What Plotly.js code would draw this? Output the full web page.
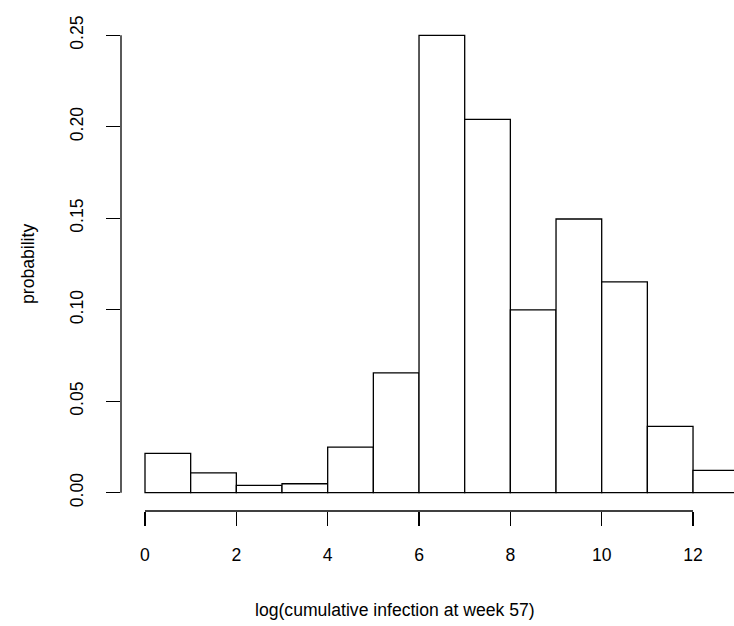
<!DOCTYPE html>
<html>
<head>
<meta charset="utf-8">
<script src="https://cdn.plot.ly/plotly-3.0.1.min.js"></script>
<style>html,body{margin:0;padding:0;background:#fff;overflow:hidden;}</style>
</head>
<body>
<div id="chart" style="width:734px;height:626px;"></div>
<script>
// Histogram bin breaks and bar heights (probability)
const breaks = [0, 1, 2, 3, 4, 5, 6, 7, 8, 9, 10, 11, 12, 13];
const probability = [0.0215, 0.0108, 0.0040, 0.0049, 0.0249, 0.0655, 0.2500, 0.2041, 0.0999, 0.1496, 0.1152, 0.0362, 0.0122];
const xTicks = [0, 2, 4, 6, 8, 10, 12];
const yTicks = [0.00, 0.05, 0.10, 0.15, 0.20, 0.25];
const yTickLabels = ["0.00", "0.05", "0.10", "0.15", "0.20", "0.25"];
const xTitle = "log(cumulative infection at week 57)";
const yTitle = "probability";

const mids = probability.map((_, i) => (breaks[i] + breaks[i + 1]) / 2);
const widths = probability.map((_, i) => breaks[i + 1] - breaks[i]);

const font = {family: "Liberation Sans, Arial, sans-serif", size: 17.6, color: "#000"};

const trace = {
  type: "bar",
  x: mids,
  y: probability,
  width: widths,
  marker: {color: "#ffffff", line: {color: "#000000", width: 1.3}},
  hoverinfo: "x+y"
};

const layout = {
  width: 734,
  height: 626,
  margin: {l: 121, r: 0, t: 17, b: 115},
  paper_bgcolor: "#fff",
  plot_bgcolor: "#fff",
  showlegend: false,
  bargap: 0,
  font: font,
  xaxis: {
    range: [-0.5255, 12.897],
    tickvals: xTicks,
    ticktext: xTicks.map(String),
    ticks: "outside",
    ticklen: 14,
    tickwidth: 1.3,
    tickcolor: "#000",
    showgrid: false,
    zeroline: false,
    showline: false,
    tickfont: font,
    ticklabelstandoff: 14
  },
  yaxis: {
    range: [-0.01, 0.26],
    tickvals: yTicks,
    ticktext: yTickLabels,
    tickangle: -90,
    ticks: "outside",
    ticklen: 14,
    tickwidth: 1.3,
    tickcolor: "#000",
    showgrid: false,
    zeroline: false,
    showline: false,
    tickfont: font,
    ticklabelstandoff: 16
  },
  shapes: [
    {type: "line", xref: "x", yref: "paper", x0: xTicks[0], x1: xTicks[xTicks.length - 1], y0: 0, y1: 0,
     line: {color: "#000", width: 1.3}},
    {type: "line", xref: "paper", yref: "y", x0: 0, x1: 0, y0: yTicks[0], y1: yTicks[yTicks.length - 1],
     line: {color: "#000", width: 1.3}}
  ],
  annotations: [
    {text: xTitle, xref: "paper", yref: "paper", x: 0.447, y: -0.2004, showarrow: false,
     xanchor: "center", yanchor: "middle", font: font},
    {text: yTitle, xref: "paper", yref: "paper", x: -0.1517, y: 0.5, showarrow: false, textangle: -90,
     xanchor: "center", yanchor: "middle", font: font}
  ]
};

Plotly.newPlot("chart", [trace], layout, {displayModeBar: false, staticPlot: true});
</script>
</body>
</html>
